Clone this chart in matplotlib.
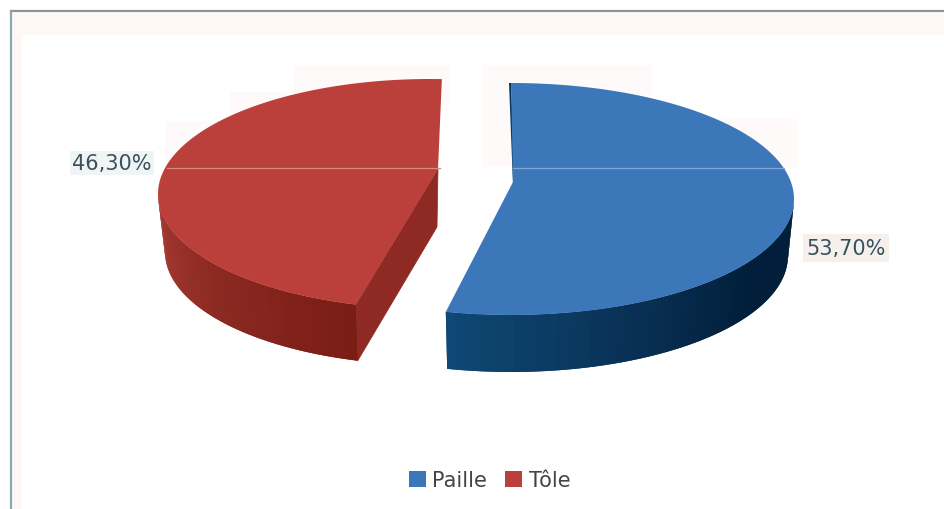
import numpy as np
import matplotlib
matplotlib.use("Agg")
import matplotlib.pyplot as plt
from matplotlib.colors import LinearSegmentedColormap
from matplotlib.patches import Rectangle, Polygon

# data
categories = ["Paille", "Tôle"]
shares = [53.70, 46.30]
value_labels = ["53,70%", "46,30%"]

top_colors = ["#3c78b9", "#bb403b"]
face_colors = ["#06375c", "#8e2a23"]
blue_side = LinearSegmentedColormap.from_list("blue_side", ["#011f3b", "#011f3b", "#0a3358", "#0e4874"])
red_side = LinearSegmentedColormap.from_list("red_side", ["#a83c35", "#8c2a22", "#7a1d15"])


def rim(t_deg, cx, cy, rx, ry):
    # t is measured clockwise from the top of the ellipse
    t = np.radians(t_deg)
    return cx + rx * np.sin(t), cy - ry * np.cos(t)


def draw_side(ax, t_from, t_to, top, bottom, cmap):
    # outer wall as strips, each one overlapping the next to hide seams
    ts = np.linspace(t_from, t_to, 60)
    for i in range(len(ts) - 1):
        t_end = ts[min(i + 2, len(ts) - 1)]
        x0, y0 = rim(ts[i], *top)
        x1, y1 = rim(t_end, *top)
        x2, y2 = rim(t_end, *bottom)
        x3, y3 = rim(ts[i], *bottom)
        c = cmap(i / (len(ts) - 2))
        ax.add_patch(Polygon([(x0, y0), (x1, y1), (x2, y2), (x3, y3)],
                             facecolor=c, edgecolor="none", zorder=3))


def draw_top(ax, t_from, t_to, apex, ell, color):
    ts = np.linspace(t_from, t_to, 200)
    xs, ys = rim(ts, *ell)
    pts = [apex] + list(zip(xs, ys))
    ax.add_patch(Polygon(pts, facecolor=color, edgecolor="none", zorder=5))


fig = plt.figure(figsize=(9.45, 5.1), dpi=100)
ax = fig.add_axes([0, 0, 1, 1])
ax.set_xlim(0, 945)
ax.set_ylim(510, 0)
ax.axis("off")

# frame of the chart area, with pale bands along the edges
ax.add_patch(Rectangle((13, 14), 932, 22, facecolor="#fff9f6", edgecolor="none", zorder=0))
ax.add_patch(Rectangle((13, 14), 9, 496, facecolor="#fdf8f5", edgecolor="none", zorder=0))
ax.plot([11, 945], [12, 12], color="#8f9496", lw=1.6, zorder=1)
ax.plot([11, 11], [12, 510], color="#8fa6b0", lw=1.6, zorder=1)

# faint halo blocks behind the upper half of the pie
for x, y, w, h in [(293, 66, 157, 40), (230, 93, 100, 30), (165, 122, 100, 46),
                   (482, 66, 170, 40), (680, 120, 118, 48), (482, 100, 32, 68)]:
    ax.add_patch(Rectangle((x, y), w, h, facecolor="#fffafa", edgecolor="none", zorder=1))

# Paille slice, starts at 12 o'clock and runs clockwise
blue_top = (511, 200, 283, 116)
blue_bottom = (511, 257, 277, 116)
blue_apex = (513, 183)
blue_end = 360 * shares[0] / 100
draw_side(ax, 90, blue_end, blue_top, blue_bottom, blue_side)
ax.add_patch(Polygon([(509, 84), (511, 84), (515, 186), (513, 186)],
                     facecolor=face_colors[0], edgecolor="none", zorder=4))
draw_top(ax, 0, blue_end, blue_apex, blue_top, top_colors[0])

# Tôle slice, runs the other way from just past the top
red_top = (430, 195, 272, 115)
red_bottom = (430, 253, 265, 113)
red_apex = (438, 170)
red_start = 2.5
red_end = red_start - 360 * shares[1] / 100
ex, ey = rim(red_end, *red_top)
bx, by = rim(red_end, *red_bottom)
ax.add_patch(Polygon([red_apex, (437, 228), (bx, by), (ex, ey)],
                     facecolor=face_colors[1], edgecolor=face_colors[1], lw=0.5, zorder=3))
draw_side(ax, -90, red_end, red_top, red_bottom, red_side)
draw_top(ax, red_start, red_end, red_apex, red_top, top_colors[1])

# thin pale seam across both slices
ax.plot([167, 440], [168.5, 168.5], color="#d98a80", lw=0.9, zorder=7)
ax.plot([513, 784], [168.5, 168.5], color="#7ea6d6", lw=0.9, zorder=7)

# value labels
ax.text(846, 249, value_labels[0], fontsize=15, color="#37525e", ha="center", va="center", zorder=8,
        bbox=dict(boxstyle="square,pad=0.18", facecolor="#f5f0ec", edgecolor="none"))
ax.text(112, 164, value_labels[1], fontsize=15, color="#37525e", ha="center", va="center", zorder=8,
        bbox=dict(boxstyle="square,pad=0.1", facecolor="#f1f4f4", edgecolor="none"))

# legend along the bottom
handles = [Rectangle((0, 0), 1, 1, facecolor=c, edgecolor="none") for c in top_colors]
ax.legend(handles, categories, ncol=2, frameon=False, fontsize=15,
          loc="center", bbox_to_anchor=(489.5, 481), bbox_transform=ax.transData,
          handlelength=0.82, handleheight=0.8, handletextpad=0.32, columnspacing=0.85,
          borderpad=0, labelcolor="#444444")

fig.savefig("out.png", dpi=100)
